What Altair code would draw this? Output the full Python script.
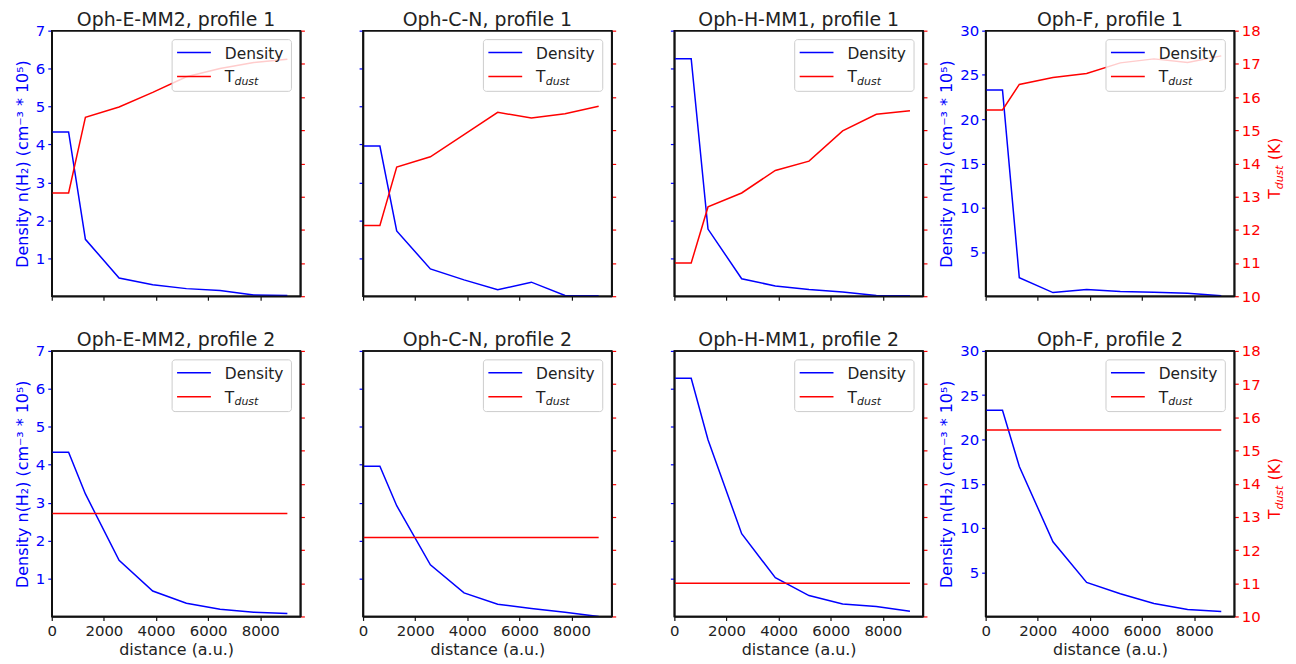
import altair as alt
import pandas as pd

# ---------------- data ----------------
distance = [0, 646, 1291, 2583, 3874, 5166, 6457, 7749, 9040]
sources = ["Oph-E-MM2", "Oph-C-N", "Oph-H-MM1", "Oph-F"]

# profile 1 : density (1e5 cm^-3)
dens_EMM2_p1 = [4.33, 4.33, 1.50, 0.48, 0.30, 0.20, 0.15, 0.03, 0.02]
dens_CN_p1 = [3.96, 3.96, 1.72, 0.72, 0.43, 0.17, 0.37, 0.02, 0.01]
dens_HMM1_p1 = [6.26, 6.26, 1.77, 0.46, 0.27, 0.18, 0.11, 0.02, 0.01]
dens_F_p1 = [23.3, 23.3, 2.09, 0.41, 0.75, 0.52, 0.45, 0.34, 0.04]

# profile 1 : dust temperature (K)
tdust_EMM2_p1 = [13.11, 13.11, 15.39, 15.70, 16.14, 16.61, 16.86, 17.04, 17.14]
tdust_CN_p1 = [12.13, 12.13, 13.89, 14.20, 14.87, 15.54, 15.37, 15.50, 15.72]
tdust_HMM1_p1 = [11.0, 11.0, 12.69, 13.11, 13.79, 14.07, 14.98, 15.48, 15.59]
tdust_F_p1 = [15.61, 15.61, 16.38, 16.59, 16.71, 17.03, 17.15, 17.04, 17.24]

# profile 2 : density
dens_EMM2_p2 = [4.33, 4.33, 3.23, 1.48, 0.67, 0.35, 0.19, 0.11, 0.08]
dens_CN_p2 = [3.96, 3.96, 2.92, 1.36, 0.62, 0.32, 0.21, 0.11, 0.0]
dens_HMM1_p2 = [6.28, 6.28, 4.66, 2.18, 1.02, 0.55, 0.33, 0.26, 0.14]
dens_F_p2 = [23.3, 23.3, 16.94, 8.43, 3.84, 2.57, 1.46, 0.78, 0.56]

# profile 2 : dust temperature (constant)
tdust_EMM2_p2 = [13.1, 13.1, 13.1, 13.1, 13.1, 13.1, 13.1, 13.1, 13.1]
tdust_CN_p2 = [12.38, 12.38, 12.38, 12.38, 12.38, 12.38, 12.38, 12.38, 12.38]
tdust_HMM1_p2 = [11.0, 11.0, 11.0, 11.0, 11.0, 11.0, 11.0, 11.0, 11.0]
tdust_F_p2 = [15.62, 15.62, 15.62, 15.62, 15.62, 15.62, 15.62, 15.62, 15.62]

x_ticks = [0, 2000, 4000, 6000, 8000]
dens_ticks_small = [1, 2, 3, 4, 5, 6, 7]
dens_ticks_large = [5, 10, 15, 20, 25, 30]
tdust_ticks = [10, 11, 12, 13, 14, 15, 16, 17, 18]

dens = [
    [dens_EMM2_p1, dens_CN_p1, dens_HMM1_p1, dens_F_p1],
    [dens_EMM2_p2, dens_CN_p2, dens_HMM1_p2, dens_F_p2],
]
tdust = [
    [tdust_EMM2_p1, tdust_CN_p1, tdust_HMM1_p1, tdust_F_p1],
    [tdust_EMM2_p2, tdust_CN_p2, tdust_HMM1_p2, tdust_F_p2],
]

# ---------------- style ----------------
W, H = 250, 267
FONT = "DejaVu Sans"
BLUE = "#0000ff"
RED = "#ff0000"
DARK = "#222222"
FRAME = "#111111"
SPINE_W = 1.5
DENS_TITLE = "Density n(H\u2082) (cm\u207b\u00b3 * 10\u2075)"


def panel(row, col):
    df = pd.DataFrame({"distance": distance,
                       "dens": dens[row][col],
                       "tdust": tdust[row][col]})
    bottom = row == 1
    big = col == 3
    show_left = col in (0, 3)
    show_right = col == 3

    x_axis_kw = dict(values=x_ticks, domain=True, domainColor=FRAME, domainWidth=SPINE_W,
                     domainOpacity=1, grid=False, tickColor=FRAME, tickWidth=1.2,
                     tickSize=4, labels=bottom, labelFlush=False, labelOverlap=False,
                     format="d", labelFont=FONT, labelFontSize=15, labelColor=DARK,
                     labelPadding=3)
    if bottom:
        x_axis_kw.update(title="distance (a.u.)", titleFont=FONT, titleFontSize=16,
                         titleFontWeight="normal", titleColor=DARK, titlePadding=3)
    else:
        x_axis_kw.update(title=None)
    x = alt.X("distance:Q", scale=alt.Scale(domain=[0, 9540], nice=False, zero=False),
              axis=alt.Axis(**x_axis_kw))

    # hidden labels (opacity 0) keep the same top overhang in every panel,
    # so all panel titles sit at the same height
    left_kw = dict(values=dens_ticks_large if big else dens_ticks_small,
                   domain=True, domainColor=FRAME, domainWidth=SPINE_W, domainOpacity=1,
                   grid=False, tickColor=BLUE, tickWidth=1.2, tickSize=4, labels=True,
                   labelOpacity=1 if show_left else 0,
                   labelFont=FONT, labelFontSize=15, labelColor=BLUE, labelPadding=3,
                   orient="left")
    if show_left:
        left_kw.update(title=DENS_TITLE, titleFont=FONT, titleFontSize=16,
                       titleFontWeight="normal", titleColor=BLUE, titlePadding=5)
    else:
        left_kw.update(title=None)

    right_kw = dict(values=tdust_ticks, domain=True, domainColor=FRAME, domainWidth=SPINE_W,
                    domainOpacity=1, grid=False, tickColor=RED, tickWidth=1.2,
                    tickSize=4, labels=show_right, labelFont=FONT, labelFontSize=15,
                    labelColor=RED, labelPadding=3, orient="right", title=None)

    base = alt.Chart(df).encode(x=x)
    dens_line = base.mark_line(color=BLUE, strokeWidth=1.5).encode(
        y=alt.Y("dens:Q", scale=alt.Scale(domain=[0, 30 if big else 7], nice=False, zero=False),
                axis=alt.Axis(**left_kw)))
    t_line = base.mark_line(color=RED, strokeWidth=1.5).encode(
        y=alt.Y("tdust:Q", scale=alt.Scale(domain=[10, 18], nice=False, zero=False),
                axis=alt.Axis(**right_kw)))

    one = pd.DataFrame({"k": [0]})
    leg = alt.Chart(one)
    box = leg.mark_rect(fill="white", fillOpacity=0.8, stroke="#cccccc",
                        strokeWidth=1, cornerRadius=3).encode(
        x=alt.value(W - 129), x2=alt.value(W - 9), y=alt.value(9), y2=alt.value(61))
    r1 = leg.mark_rule(color=BLUE, strokeWidth=1.5).encode(
        x=alt.value(W - 124), x2=alt.value(W - 90), y=alt.value(22))
    r2 = leg.mark_rule(color=RED, strokeWidth=1.5).encode(
        x=alt.value(W - 124), x2=alt.value(W - 90), y=alt.value(46))
    t1 = leg.mark_text(text="Density", font=FONT, fontSize=15.5, color=DARK,
                       align="left", baseline="alphabetic").encode(
        x=alt.value(W - 76), y=alt.value(28))
    t2 = leg.mark_text(text="T", font=FONT, fontSize=15.5, color=DARK,
                       align="left", baseline="alphabetic").encode(
        x=alt.value(W - 76), y=alt.value(52))
    t3 = leg.mark_text(text="dust", font=FONT, fontSize=11, fontStyle="italic",
                       color=DARK, align="left", baseline="alphabetic").encode(
        x=alt.value(W - 66.3), y=alt.value(54.5))
    frame = leg.mark_rect(fillOpacity=0, fill="white", stroke=FRAME,
                          strokeWidth=SPINE_W, strokeOpacity=1).encode(
        x=alt.value(0), x2=alt.value(W), y=alt.value(0), y2=alt.value(H))
    layers = [dens_line, t_line, box, r1, r2, t1, t2, t3, frame]

    if show_right:
        a1 = leg.mark_text(text="T", font=FONT, fontSize=15.5, color=RED, angle=270,
                           align="left", baseline="alphabetic").encode(
            x=alt.value(W + 46), y=alt.value(169))
        a2 = leg.mark_text(text="dust", font=FONT, fontSize=11, fontStyle="italic",
                           color=RED, angle=270, align="left", baseline="alphabetic").encode(
            x=alt.value(W + 48.5), y=alt.value(159.5))
        a3 = leg.mark_text(text="(K)", font=FONT, fontSize=15.5, color=RED, angle=270,
                           align="left", baseline="alphabetic").encode(
            x=alt.value(W + 46), y=alt.value(130))
        layers += [a1, a2, a3]

    title = alt.TitleParams(f"{sources[col]}, profile {row + 1}", font=FONT, fontSize=19,
                            fontWeight="normal", color=DARK, anchor="middle", offset=-6)
    return alt.layer(*layers).resolve_scale(y="independent").properties(
        width=W, height=H, title=title)


panels = [panel(r, c) for r in range(2) for c in range(4)]
chart = alt.concat(*panels, columns=4, spacing={"row": 55, "column": 63},
                   bounds="flush").properties(
    padding={"left": 5, "top": 0, "right": 2, "bottom": 2},
    config=alt.Config(background="white",
                      view=alt.ViewConfig(stroke=FRAME, strokeWidth=SPINE_W))
)

chart.save("out.html", embed_options={"renderer": "svg", "actions": False})
